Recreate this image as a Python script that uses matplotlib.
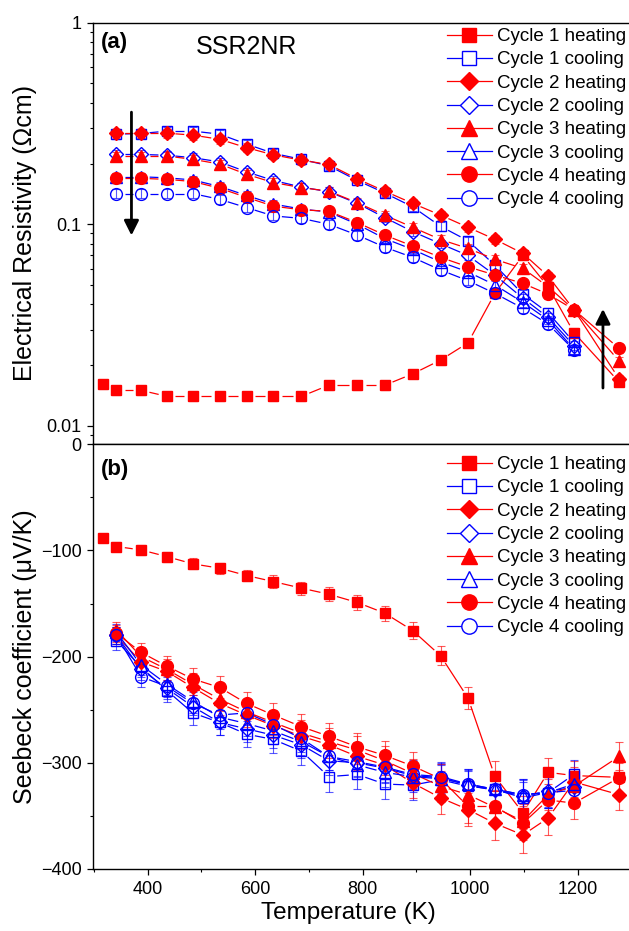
import matplotlib
matplotlib.use("Agg")
import matplotlib.pyplot as plt
import numpy as np
from matplotlib.collections import LineCollection
from matplotlib.lines import Line2D
from matplotlib.ticker import FixedLocator, FuncFormatter, MultipleLocator, LogLocator

plt.rcParams["font.family"] = ["Liberation Sans", "DejaVu Sans"]

# temperatures (K)
T_c1_heat = [318, 342, 388, 436, 484, 534, 584, 634, 686, 737, 790, 841, 893, 945, 996, 1046, 1098, 1145, 1193, 1277]
T_heat = T_c1_heat[1:]
T_cool = T_c1_heat[1:19]

# (a) electrical resistivity (Ohm cm)
rho_c1_heat = [0.0161, 0.0150, 0.0150, 0.0140, 0.0140, 0.0140, 0.0140, 0.0140, 0.0140, 0.0159,
               0.0159, 0.0159, 0.0181, 0.0212, 0.0258, 0.0454, 0.0700, 0.0490, 0.0290, 0.0165]
rho_c1_cool = [0.280, 0.282, 0.290, 0.290, 0.280, 0.250, 0.225, 0.210, 0.195, 0.165, 0.143, 0.122,
               0.0977, 0.0828, 0.0627, 0.0450, 0.0364, 0.0260]
rho_c2_heat = [0.283, 0.283, 0.283, 0.277, 0.264, 0.240, 0.221, 0.208, 0.198, 0.168, 0.146, 0.127,
               0.111, 0.0966, 0.0842, 0.0717, 0.0553, 0.0377, 0.0171]
rho_c2_cool = [0.222, 0.222, 0.220, 0.214, 0.204, 0.182, 0.165, 0.153, 0.145, 0.127, 0.108, 0.092,
               0.0800, 0.0700, 0.0560, 0.0430, 0.0345, 0.0250]
rho_c3_heat = [0.218, 0.218, 0.218, 0.210, 0.199, 0.177, 0.161, 0.152, 0.146, 0.128, 0.111, 0.0966,
               0.084, 0.0759, 0.067, 0.0604, 0.049, 0.0377, 0.021]
rho_c3_cool = [0.172, 0.172, 0.170, 0.166, 0.154, 0.139, 0.126, 0.119, 0.115, 0.100, 0.085, 0.075,
               0.0650, 0.0580, 0.0500, 0.0410, 0.0335, 0.0240]
rho_c4_heat = [0.169, 0.169, 0.167, 0.163, 0.151, 0.136, 0.123, 0.118, 0.116, 0.102, 0.0884, 0.078,
               0.0685, 0.0615, 0.056, 0.0509, 0.045, 0.0377, 0.0242]
rho_c4_cool = [0.142, 0.142, 0.142, 0.142, 0.133, 0.121, 0.110, 0.107, 0.100, 0.0884, 0.077, 0.0685,
               0.0593, 0.0525, 0.0454, 0.0383, 0.032, 0.0238]

# (b) Seebeck coefficient (uV/K)
S_c1_heat = [-88.5, -96.3, -99.5, -105.8, -112.6, -116.7, -123.6, -129.3, -135.5, -141.2, -149.0,
             -159.0, -175.4, -199.2, -239.0, -312.8, -347.0, -309.0, -312.0, -313.7]
S_c1_cool = [-185, -210, -232, -253, -262, -273, -278, -289, -313, -311, -320, -321, -316, -322,
             -325, -333, -328, -311]
S_c2_heat = [-180, -205, -214, -229, -244, -255, -265, -275, -283, -294, -302, -319, -333, -344,
             -357, -368, -352, -318, -330]
S_c2_cool = [-180, -212, -230, -247, -262, -268, -274, -283, -298, -300, -305, -312, -314, -321,
             -326, -331, -327, -323]
S_c3_heat = [-175, -200, -212, -226, -240, -252, -262, -272, -280, -288, -298, -310, -322, -330,
             -342, -355, -330, -322, -294]
S_c3_cool = [-177, -208, -226, -242, -257, -263, -270, -280, -294, -302, -309, -313, -315, -320,
             -325, -330, -328, -320]
S_c4_heat = [-178, -196, -209, -221, -229, -244, -255, -266, -275, -285, -293, -303, -315, -341,
             -341, -357, -335, -338, -314]
S_c4_cool = [-180, -219, -228, -244, -255, -253, -264, -277, -294, -299, -304, -311, -313, -320,
             -325, -330, -328, -326]

labels = ["Cycle 1 heating", "Cycle 1 cooling", "Cycle 2 heating", "Cycle 2 cooling",
          "Cycle 3 heating", "Cycle 3 cooling", "Cycle 4 heating", "Cycle 4 cooling"]

RED = "#ff0000"
BLUE = "#0000ff"
styles = [
    dict(marker="s", color=RED, filled=True, ms=7.5),
    dict(marker="s", color=BLUE, filled=False, ms=7.5),
    dict(marker="D", color=RED, filled=True, ms=7),
    dict(marker="D", color=BLUE, filled=False, ms=7),
    dict(marker="^", color=RED, filled=True, ms=8.5),
    dict(marker="^", color=BLUE, filled=False, ms=8.5),
    dict(marker="o", color=RED, filled=True, ms=8.5),
    dict(marker="o", color=BLUE, filled=False, ms=8.5),
]


def gapped_line(ax, x, y, gap, color, lw=0.9):
    """Origin-style connecting line that stops short of each symbol."""
    pts = ax.transData.transform(np.column_stack([x, y]))
    inv = ax.transData.inverted()
    segs = []
    for p0, p1 in zip(pts[:-1], pts[1:]):
        d = p1 - p0
        length = np.hypot(*d)
        if length <= 2 * gap:
            continue
        u = d / length
        segs.append(inv.transform(np.array([p0 + u * gap, p1 - u * gap])))
    ax.add_collection(LineCollection(segs, colors=color, linewidths=lw, zorder=2))


def draw_series(ax, x, y, err, st):
    ax.errorbar(x, y, yerr=err, fmt="none", ecolor=st["color"], elinewidth=0.8,
                capsize=3, capthick=0.8, alpha=0.65, zorder=2)
    gapped_line(ax, x, y, 8.5, st["color"])
    ax.plot(x, y, ls="none", marker=st["marker"], ms=st["ms"],
            mfc=st["color"] if st["filled"] else "none", mec=st["color"],
            mew=1.0, zorder=3)


fig = plt.figure(figsize=(6.29, 9.31), dpi=100)
ax_a = fig.add_axes([0.1483, 0.5228, 0.8556, 0.4528])
ax_b = fig.add_axes([0.1483, 0.0666, 0.8556, 0.4562])

for ax in (ax_a, ax_b):
    ax.set_xlim(299, 1300)
    ax.xaxis.set_major_locator(MultipleLocator(200))
    ax.xaxis.set_minor_locator(MultipleLocator(100))
    ax.tick_params(which="major", direction="out", length=4.5, width=0.9, labelsize=13, pad=4)
    ax.tick_params(which="minor", direction="out", length=2.5, width=0.8)
    for sp in ax.spines.values():
        sp.set_linewidth(1.0)

ax_a.set_yscale("log")
ax_a.set_ylim(0.0081, 1.0)
ax_a.yaxis.set_major_locator(FixedLocator([0.01, 0.1, 1]))
ax_a.yaxis.set_major_formatter(FuncFormatter(lambda v, p: "%g" % v))
ax_a.yaxis.set_minor_locator(LogLocator(base=10, subs=np.arange(2, 10)))
ax_a.yaxis.set_minor_formatter(FuncFormatter(lambda v, p: ""))
ax_a.tick_params(axis="x", labelbottom=False)

ax_b.set_ylim(-400, 0)
ax_b.yaxis.set_major_locator(MultipleLocator(100))
ax_b.yaxis.set_minor_locator(MultipleLocator(50))

rho_sets = [
    (T_c1_heat, rho_c1_heat), (T_cool, rho_c1_cool),
    (T_heat, rho_c2_heat), (T_cool, rho_c2_cool),
    (T_heat, rho_c3_heat), (T_cool, rho_c3_cool),
    (T_heat, rho_c4_heat), (T_cool, rho_c4_cool),
]
S_sets = [
    (T_c1_heat, S_c1_heat), (T_cool, S_c1_cool),
    (T_heat, S_c2_heat), (T_cool, S_c2_cool),
    (T_heat, S_c3_heat), (T_cool, S_c3_cool),
    (T_heat, S_c4_heat), (T_cool, S_c4_cool),
]

for (x, y), st in zip(rho_sets, styles):
    y = np.asarray(y)
    draw_series(ax_a, x, y, 0.05 * y, st)
for (x, y), st in zip(S_sets, styles):
    y = np.asarray(y, dtype=float)
    draw_series(ax_b, x, y, 0.045 * np.abs(y), st)

# arrows
arrow_kw = dict(arrowstyle="-|>", color="black", lw=2.0, mutation_scale=22, shrinkA=0, shrinkB=0)
ax_a.annotate("", xy=(370, 0.088), xytext=(370, 0.36), arrowprops=arrow_kw)
ax_a.annotate("", xy=(1247, 0.038), xytext=(1247, 0.0154), arrowprops=arrow_kw)

# labels
ax_a.set_ylabel("Electrical Resistivity (\u03a9cm)", fontsize=18)
ax_b.set_ylabel("Seebeck coefficient (\u03bcV/K)", fontsize=18)
ax_b.set_xlabel("Temperature (K)", fontsize=17.5)
ax_a.yaxis.set_label_coords(-0.105, 0.5)
ax_b.yaxis.set_label_coords(-0.105, 0.5)
ax_b.xaxis.set_label_coords(0.474, -0.077)

ax_a.text(0.014, 0.977, "(a)", transform=ax_a.transAxes, fontsize=16, fontweight="bold",
          ha="left", va="top")
ax_b.text(0.014, 0.965, "(b)", transform=ax_b.transAxes, fontsize=16, fontweight="bold",
          ha="left", va="top")
ax_a.text(0.285, 0.972, "SSR2NR", transform=ax_a.transAxes, fontsize=18, ha="center", va="top")

handles = [
    Line2D([], [], color=st["color"], lw=0.9, marker=st["marker"], ms=st["ms"],
           mfc=st["color"] if st["filled"] else "white", mec=st["color"], mew=1.0)
    for st in styles
]
leg_kw = dict(frameon=False, fontsize=13.5, markerscale=1.3, handlelength=2.4,
              handletextpad=0.27, labelspacing=0.33, borderpad=0, borderaxespad=0,
              loc="upper right", bbox_transform=fig.transFigure)
ax_a.legend(handles, labels, bbox_to_anchor=(626 / 629, 1 - 28 / 931), **leg_kw)
ax_b.legend(handles, labels, bbox_to_anchor=(626 / 629, 1 - 456 / 931), **leg_kw)

fig.savefig("out.png", dpi=100)
